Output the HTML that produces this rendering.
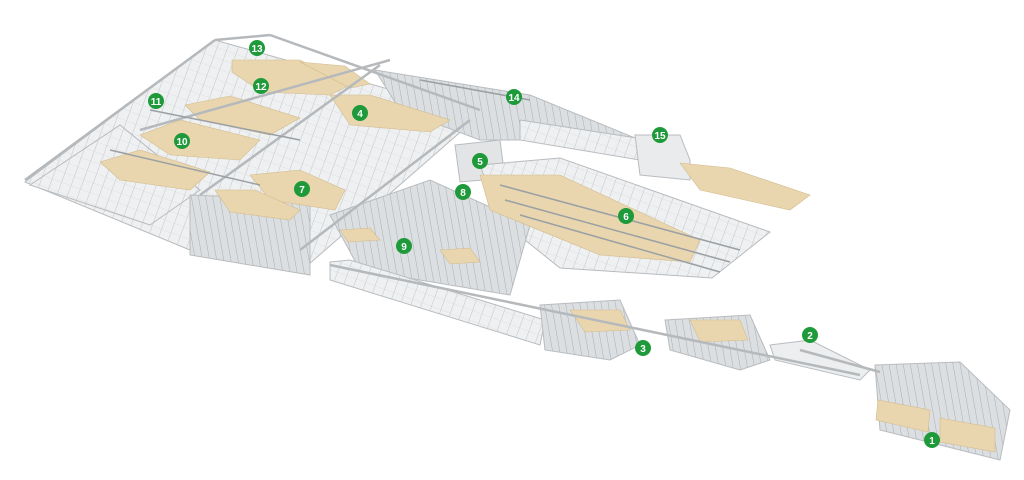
<!DOCTYPE html>
<html><head><meta charset="utf-8"><style>
html,body{margin:0;padding:0;background:#fff;}
svg{display:block}
text{font-family:"Liberation Sans",sans-serif;font-weight:bold;fill:#fff;font-size:10px;text-anchor:middle}
</style></head><body>
<svg width="1024" height="480" viewBox="0 0 1024 480" xmlns="http://www.w3.org/2000/svg">
<defs>
<pattern id="g1" width="10" height="10" patternUnits="userSpaceOnUse" patternTransform="rotate(20)">
<rect width="10" height="10" fill="#eef0f1"/>
<line x1="0" y1="0" x2="0" y2="10" stroke="#c3c6c9" stroke-width="1"/>
<line x1="0" y1="0" x2="10" y2="0" stroke="#d4d6d8" stroke-width="0.6"/>
</pattern>
<pattern id="g2" width="7" height="7" patternUnits="userSpaceOnUse" patternTransform="rotate(-10)">
<rect width="7" height="7" fill="#dcdfe1"/>
<line x1="0" y1="0" x2="0" y2="7" stroke="#a9adb1" stroke-width="1"/>
</pattern>
</defs>
<rect width="1024" height="480" fill="#fff"/>
<g stroke="#b9bcbf" stroke-width="1">
<polygon points="25,182 215,40 480,115 300,272 190,250" fill="url(#g1)"/>
<polygon points="30,185 120,125 200,190 150,225" fill="url(#g1)"/>
<polygon points="190,195 310,200 310,275 190,255" fill="url(#g2)"/>
<polygon points="375,70 530,95 640,140 480,140 400,110" fill="url(#g2)"/>
<polygon points="520,120 650,140 640,160 520,140" fill="url(#g1)"/>
<polygon points="635,135 680,135 690,160 690,180 640,175" fill="#e9ebec"/>
<polygon points="455,145 500,140 505,178 460,182" fill="#e2e4e6"/>
<polygon points="480,165 560,158 770,232 712,278 560,268 500,220" fill="url(#g1)"/>
<polygon points="330,215 430,180 530,225 510,295 360,270" fill="url(#g2)"/>
<polygon points="330,262 350,260 545,320 540,345 330,280" fill="url(#g1)"/>
<polygon points="540,305 620,300 640,345 610,360 545,350" fill="url(#g2)"/>
<polygon points="665,320 750,315 770,360 740,370 670,350" fill="url(#g2)"/>
<polygon points="770,345 810,340 870,370 860,380 775,360" fill="#eceeef"/>
<polygon points="875,365 960,362 1010,410 1000,460 880,430" fill="url(#g2)"/>
</g>
<g fill="#e9d6ae" stroke="#d2bb8e" stroke-width="0.6">
<polygon points="232,60 300,60 350,85 330,95 262,92 232,72"/>
<polygon points="300,62 345,66 370,84 350,88"/>
<polygon points="185,105 230,96 300,118 270,135 200,120"/>
<polygon points="140,135 180,120 260,140 240,160 170,155"/>
<polygon points="100,162 140,150 210,172 190,190 120,180"/>
<polygon points="330,95 370,95 450,120 430,132 350,125"/>
<polygon points="250,175 300,170 345,190 335,210 270,200"/>
<polygon points="215,190 255,190 300,210 290,220 230,212"/>
<polygon points="480,175 560,175 700,240 690,262 600,255 490,210"/>
<polygon points="680,163 730,168 810,195 790,210 700,190"/>
<polygon points="570,310 620,310 630,330 585,332"/>
<polygon points="690,320 740,320 748,340 700,342"/>
<polygon points="878,400 930,410 928,432 876,420"/>
<polygon points="940,418 995,428 995,452 940,442"/>
<polygon points="340,230 370,228 380,240 348,242"/>
<polygon points="440,250 470,248 480,262 450,264"/>
</g>
<g stroke="#b5b9bc" stroke-width="2.5" fill="none">
<line x1="25" y1="180" x2="215" y2="40"/>
<line x1="215" y1="40" x2="270" y2="35"/>
<line x1="140" y1="130" x2="390" y2="60"/>
<line x1="300" y1="250" x2="470" y2="120"/>
<line x1="200" y1="195" x2="380" y2="65"/>
<line x1="270" y1="35" x2="480" y2="110"/>
<line x1="330" y1="265" x2="860" y2="375"/>
<line x1="800" y1="350" x2="880" y2="372"/>
</g>
<g stroke="#9aa0a4" stroke-width="1.5" fill="none">
<line x1="150" y1="110" x2="300" y2="140"/>
<line x1="110" y1="150" x2="260" y2="185"/>
<line x1="420" y1="80" x2="530" y2="100"/>
<line x1="500" y1="185" x2="740" y2="250"/>
<line x1="505" y1="200" x2="730" y2="262"/>
<line x1="520" y1="215" x2="720" y2="272"/>
</g>
<g fill="#1f9a3b">
<circle cx="257" cy="48" r="8"/><circle cx="261" cy="86" r="8"/>
<circle cx="156" cy="101" r="8"/><circle cx="360" cy="113" r="8"/>
<circle cx="514" cy="97" r="8"/><circle cx="182" cy="141" r="8"/>
<circle cx="480" cy="161" r="8"/><circle cx="660" cy="135" r="8"/>
<circle cx="302" cy="189" r="8"/><circle cx="463" cy="192" r="8"/>
<circle cx="626" cy="216" r="8"/><circle cx="404" cy="246" r="8"/>
<circle cx="810" cy="335" r="8"/><circle cx="643" cy="348" r="8"/>
<circle cx="932" cy="440" r="8"/>
</g>
<text x="257" y="52">13</text><text x="261" y="90">12</text>
<text x="156" y="105">11</text><text x="360" y="117">4</text>
<text x="514" y="101">14</text><text x="182" y="145">10</text>
<text x="480" y="165">5</text><text x="660" y="139">15</text>
<text x="302" y="193">7</text><text x="463" y="196">8</text>
<text x="626" y="220">6</text><text x="404" y="250">9</text>
<text x="810" y="339">2</text><text x="643" y="352">3</text>
<text x="932" y="444">1</text>
</svg>
</body></html>
